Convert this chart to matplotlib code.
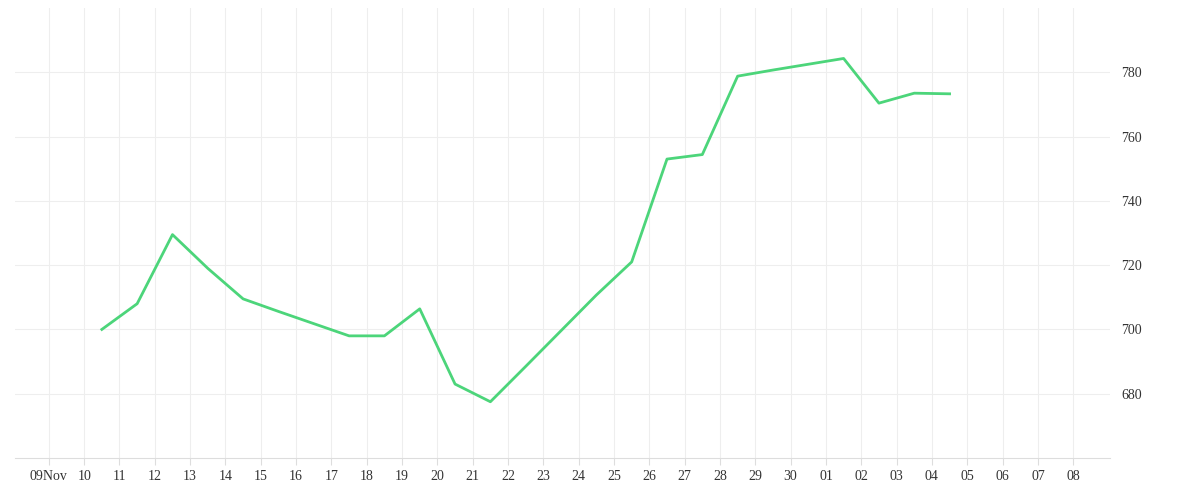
import matplotlib
matplotlib.use("Agg")
import matplotlib.pyplot as plt
import numpy as np
import pandas as pd

dates = pd.to_datetime(["2016-11-10 12:00","2016-11-11 12:00","2016-11-12 12:00","2016-11-13 12:00",
    "2016-11-14 12:00","2016-11-15 12:00","2016-11-16 12:00","2016-11-17 12:00","2016-11-18 12:00",
    "2016-11-19 12:00","2016-11-20 12:00","2016-11-21 12:00","2016-11-22 12:00","2016-11-23 12:00",
    "2016-11-24 12:00","2016-11-25 12:00","2016-11-26 12:00","2016-11-27 12:00","2016-11-28 12:00",
    "2016-11-29 12:00","2016-11-30 12:00","2016-12-01 12:00","2016-12-02 12:00","2016-12-03 12:00",
    "2016-12-04 12:00"])
values = [700, 708, 729.5, 719, 709.5, 705.6, 701.8, 698, 698, 706.4, 683, 677.5, 688.5, 699.6,
          710.7, 721, 753, 754.4, 778.8, 780.7, 782.5, 784.3, 770.4, 773.5, 773.3]
tick_dates = pd.date_range("2016-11-09", "2016-12-08", freq="D")
tick_labels = ["09Nov"] + [d.strftime("%d") for d in tick_dates[1:]]
y_ticks = [680, 700, 720, 740, 760, 780]

fig = plt.figure(figsize=(12, 5), dpi=100)
ax = fig.add_axes([0.0125, 0.084, 0.9125, 0.9])
ax.plot(dates, values, color="#4cd57a", lw=2)
ax.set_xlim(pd.Timestamp("2016-11-08 01:00"), pd.Timestamp("2016-12-09 01:00"))
ax.set_ylim(660, 800)
ax.set_xticks(tick_dates)
ax.set_xticklabels(tick_labels)
ax.set_yticks(y_ticks)
ax.yaxis.tick_right()
ax.grid(True, color="#eeeeee", lw=0.8)
for s in ["top", "left", "right"]:
    ax.spines[s].set_visible(False)
ax.spines["bottom"].set_color("#dddddd")
ax.tick_params(axis="y", length=0, labelsize=10, colors="#333333", pad=8)
ax.tick_params(axis="x", length=5, color="#dddddd", labelsize=10, colors="#333333")
for t in ax.get_xticklabels() + ax.get_yticklabels():
    t.set_family("Liberation Serif")
fig.savefig("out.png")
